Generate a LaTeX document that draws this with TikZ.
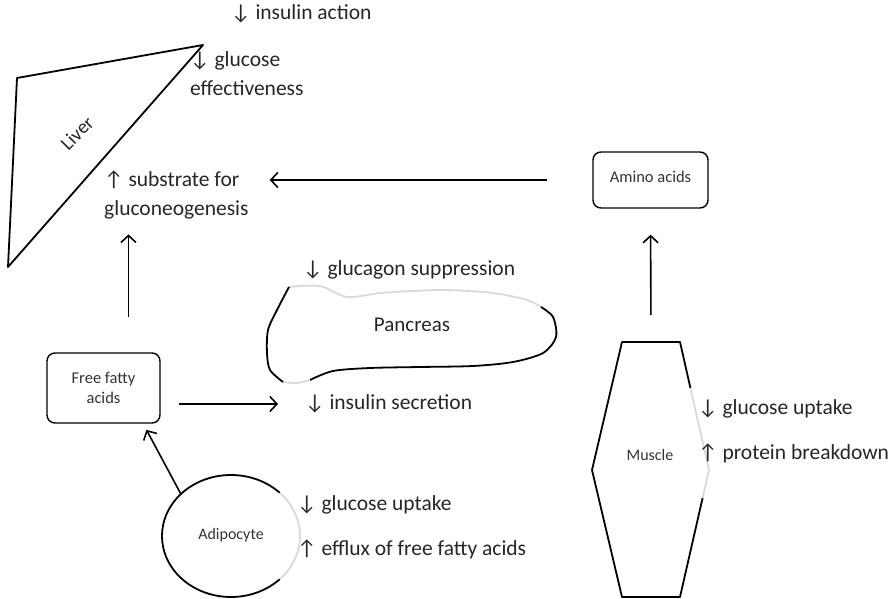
\documentclass[tikz,border=0pt]{standalone}
\usepackage{fontspec}
\setmainfont{Carlito}
\usepackage{tikz}
\usetikzlibrary{arrows.meta,shapes,calc}

\newcommand{\dnar}{↓}
\newcommand{\upar}{↑}

\tikzset{
	lbl/.style={font=\fontsize{21.5}{29}\selectfont,text=black!85,inner sep=1pt,anchor=west,align=left},
	smallbox/.style={draw,rounded corners=8pt,line width=1.4pt,font=\fontsize{16.5}{20}\selectfont,text=black!80,align=center},
	organ/.style={line width=1.8pt,line join=round},
	faded/.style={line width=1.8pt,black!15},
}

\begin{document}
\begin{tikzpicture}[x=1pt,y=1pt]
		\useasboundingbox (0,0) rectangle (895,-599);
		%
		% liver
		\draw[organ] (17,-78) -- (203,-45) -- (8,-267) -- cycle;
		\node[rotate=45,font=\fontsize{19.5}{20}\selectfont,text=black!85] (liver) at (77,-133) {Liver};
		\node[lbl] (insact) at (230,-14) {\dnar{} insulin action};
		\node[lbl] (gleff) at (189,-74) {\dnar{} glucose\\effectiveness};
		\node[lbl] (subst) at (103,-195) {\upar{} substrate for\\gluconeogenesis};
		%
		% pancreas
		\draw[faded] plot[smooth] coordinates {(289,-287) (320,-286) (347,-297) (380,-293) (413,-291) (447,-290) (493,-293) (527,-300) (541,-307)};
		\draw[organ] plot[smooth] coordinates {(541,-307) (553,-317) (556,-337) (543,-353) (513,-362) (473,-366) (420,-367) (370,-368) (333,-371) (310,-380)};
		\draw[faded] plot[smooth] coordinates {(310,-380) (297,-383) (283,-382)};
		\draw[organ] plot[smooth] coordinates {(283,-382) (270,-370) (267,-353) (268,-330) (277,-310) (289,-287)};
		\node[font=\fontsize{21}{24}\selectfont,text=black!85] (panc) at (412,-325) {Pancreas};
		\node[lbl] (glsup) at (302,-270) {\dnar{} glucagon suppression};
		\node[lbl] (insec) at (304,-404) {\dnar{} insulin secretion};
		%
		% boxes
		\node[smallbox,minimum width=115,minimum height=56] (amino) at (650.5,-180) {\raisebox{7pt}{Amino acids}};
		\node[smallbox,minimum width=113,minimum height=70] (ffa) at (103.5,-388) {Free fatty\\acids};
		%
		% muscle
		\coordinate (m1) at (622,-342);
		\coordinate (m2) at (680,-342);
		\coordinate (m3) at (709,-470);
		\coordinate (m4) at (680,-597);
		\coordinate (m5) at (622,-597);
		\coordinate (m6) at (592,-470);
		\coordinate (mtop) at (651,-342);
		\draw[organ] ($(m3)!.22!(m4)$) -- (m4) -- (m5) -- (m6) -- (m1) -- (m2) -- ($(m2)!.36!(m3)$);
		\draw[faded] ($(m2)!.36!(m3)$) -- (m3) -- ($(m3)!.22!(m4)$);
		\node[font=\fontsize{16}{20}\selectfont,text=black!80] (muscle) at (650,-455) {Muscle};
		\node[lbl] (mglu) at (697,-409) {\dnar{} glucose uptake};
		\node[lbl] (mprot) at (697,-453) {\upar{} protein breakdown};
		%
		% adipocyte
		\node[ellipse,minimum width=138,minimum height=122,inner sep=0pt,font=\fontsize{16}{20}\selectfont,text=black!80] (adipo) at (231,-536) {\raisebox{5pt}{Adipocyte}};
		\draw[organ] (adipo.center) ++(45:69 and 61) arc[start angle=45,end angle=315,x radius=69,y radius=61];
		\draw[faded] (adipo.center) ++(-45:69 and 61) arc[start angle=-45,end angle=45,x radius=69,y radius=61];
		\node[lbl] (aglu) at (296,-505) {\dnar{} glucose uptake};
		\node[lbl] (aeff) at (296,-549) {\upar{} efflux of free fatty acids};
		%
		\path[->,line width=1.6pt,>={Straight Barb[length=7pt,width=15pt]}]
		(amino.west) edge[shorten <=45pt,shorten >=20pt] (amino.west -| subst.east)
		(mtop) edge[shorten <=27pt,shorten >=26pt] (amino.south)
		(ffa.55) edge[shorten <=35pt,shorten >=14pt] (ffa.55 |- subst.south)
		(ffa.east |- insec.west) edge[shorten <=18pt,shorten >=26pt] (insec.west)
		(adipo.140) edge[shorten >=7pt] (ffa.-42);
		\end{tikzpicture}
\end{document}
